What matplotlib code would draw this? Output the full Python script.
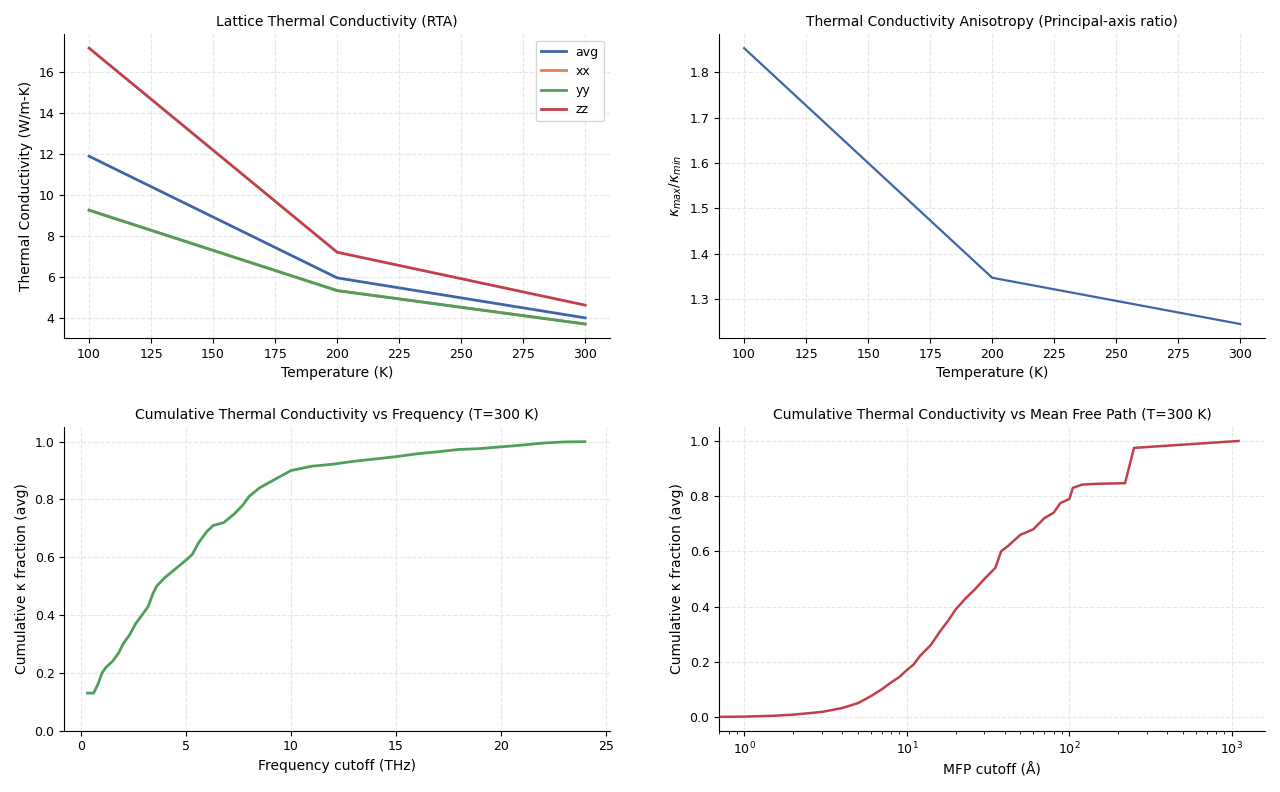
import numpy as np
import matplotlib.pyplot as plt

# Datos
temperatura = [100, 200, 300]
kappa_avg = [11.88, 5.95, 4.0]
kappa_xx = [9.25, 5.33, 3.7]
kappa_yy = [9.25, 5.33, 3.7]
kappa_zz = [17.15, 7.2, 4.62]
ratio = [1.853, 1.347, 1.245]

freq = [0.3, 0.6, 0.8, 1.0, 1.2, 1.5, 1.8, 2.0, 2.3, 2.6, 2.9, 3.2, 3.4, 3.6, 4.0,
        4.5, 5.0, 5.3, 5.6, 6.0, 6.3, 6.8, 7.3, 7.7, 8.0, 8.5, 9.0, 9.5, 10.0, 11, 12,
        13, 14, 15, 16, 17, 18, 19, 20, 21, 22, 23, 24]
frac_freq = [0.13, 0.13, 0.16, 0.2, 0.22, 0.24, 0.27, 0.30, 0.33, 0.37, 0.40, 0.43,
             0.47, 0.50, 0.53, 0.56, 0.59, 0.61, 0.65, 0.69, 0.71, 0.72, 0.75, 0.78,
             0.81, 0.84, 0.86, 0.88, 0.90, 0.915, 0.922, 0.932, 0.94, 0.948, 0.958,
             0.965, 0.973, 0.976, 0.982, 0.988, 0.995, 0.999, 1.0]

mfp = [0.7, 1, 1.5, 2, 3, 4, 5, 6, 7, 8, 9, 10, 11, 12, 14, 16, 18, 20, 23, 26, 30,
       35, 38, 42, 50, 60, 70, 80, 88, 100, 105, 120, 150, 220, 250, 1100]
frac_mfp = [0, 0.001, 0.004, 0.008, 0.018, 0.032, 0.05, 0.075, 0.1, 0.125, 0.145,
            0.17, 0.19, 0.22, 0.26, 0.31, 0.35, 0.39, 0.43, 0.46, 0.50, 0.54, 0.60,
            0.62, 0.66, 0.68, 0.72, 0.74, 0.775, 0.79, 0.83, 0.842, 0.845, 0.847,
            0.975, 1.0]

azul, naranja, verde, rojo = '#4064a8', '#dd8452', '#4f9f5c', '#c0404a'

fig, axs = plt.subplots(2, 2, figsize=(12.8, 7.92), dpi=100)
for ax in axs.flat:
    ax.grid(True, ls='--', color='#e6e6e6', lw=0.8)
    ax.spines['top'].set_visible(False)
    ax.spines['right'].set_visible(False)
    ax.tick_params(direction='out', labelsize=9)

ax = axs[0, 0]
ax.plot(temperatura, kappa_avg, color=azul, lw=2, label='avg')
ax.plot(temperatura, kappa_xx, color=naranja, lw=2, label='xx')
ax.plot(temperatura, kappa_yy, color=verde, lw=2, label='yy')
ax.plot(temperatura, kappa_zz, color=rojo, lw=2, label='zz')
ax.set_title('Lattice Thermal Conductivity (RTA)', fontsize=10)
ax.set_xlabel('Temperature (K)')
ax.set_ylabel('Thermal Conductivity (W/m-K)')
ax.legend(loc='upper right', fontsize=9)

ax = axs[0, 1]
ax.plot(temperatura, ratio, color=azul, lw=1.6)
ax.set_title('Thermal Conductivity Anisotropy (Principal-axis ratio)', fontsize=10)
ax.set_xlabel('Temperature (K)')
ax.set_ylabel(r'$\kappa_{max}/\kappa_{min}$')

ax = axs[1, 0]
ax.plot(freq, frac_freq, color=verde, lw=2)
ax.set_xlim(-0.8, 25.2)
ax.set_ylim(0, 1.05)
ax.set_title('Cumulative Thermal Conductivity vs Frequency (T=300 K)', fontsize=10)
ax.set_xlabel('Frequency cutoff (THz)')
ax.set_ylabel('Cumulative κ fraction (avg)')

ax = axs[1, 1]
ax.plot(mfp, frac_mfp, color=rojo, lw=1.8)
ax.set_xscale('log')
ax.set_xlim(0.7, 1600)
ax.set_title('Cumulative Thermal Conductivity vs Mean Free Path (T=300 K)', fontsize=10)
ax.set_xlabel('MFP cutoff (Å)')
ax.set_ylabel('Cumulative κ fraction (avg)')

plt.tight_layout(w_pad=4, h_pad=2)
plt.savefig('out.png')
